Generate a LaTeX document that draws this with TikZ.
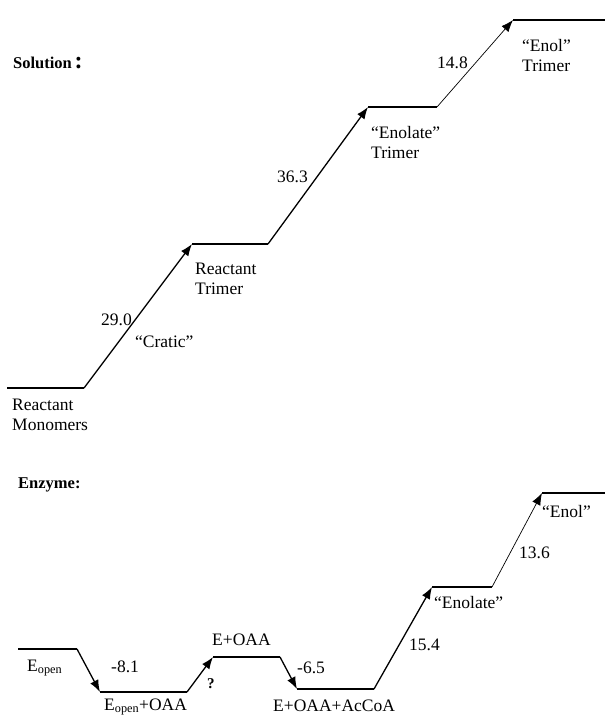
\documentclass[tikz,border=0pt]{standalone}
\usepackage{fontspec}
\setmainfont{Liberation Serif}
\usetikzlibrary{arrows.meta}
\tikzset{
  level/.style={line width=1.5pt},
  jump/.style={line width=1.3pt, -{Latex[length=12pt,width=9pt]}},
  thinjump/.style={line width=0.7pt, -{Latex[length=12pt,width=9pt]}},
  lab/.style={font=\fontsize{17.5}{20}\selectfont, inner sep=0pt, anchor=west, align=left},
  head/.style={font=\fontsize{16.5}{18}\selectfont\bfseries, inner sep=0pt, anchor=west},
}
\begin{document}
\begin{tikzpicture}[x=1pt, y=-1pt]
  \useasboundingbox (0,0) rectangle (605,717);
  % solution: levels
  \node[head] (sol) at (13,63) {Solution\,{\fontsize{24}{24}\selectfont:}};
  \coordinate (mono-s) at (7,388);   \coordinate (mono-e) at (84,388);
  \coordinate (rtri-s) at (192,244); \coordinate (rtri-e) at (268,244);
  \coordinate (etri-s) at (368,107); \coordinate (etri-e) at (437,107);
  \coordinate (ntri-s) at (513,20);  \coordinate (ntri-e) at (605,20);
  \foreach \lv in {mono, rtri, etri, ntri} {\draw[level] (\lv-s) -- (\lv-e);}
  \draw[jump] (mono-e) -- (rtri-s);
  \draw[jump] (rtri-e) -- (etri-s);
  \draw[thinjump] (etri-e) -- (ntri-s);
  \node[lab] (mono) at (12,415) {Reactant\\Monomers};
  \node[lab] (cr) at (101,320) {29.0};
  \node[lab] (cratic) at (135,342) {``Cratic''};
  \node[lab] (rtri) at (195,279) {Reactant\\Trimer};
  \node[lab] (en) at (277,177) {36.3};
  \node[lab] (etri) at (371,143) {``Enolate''\\Trimer};
  \node[lab] (el) at (437,63) {14.8};
  \node[lab] (ntri) at (522,56) {``Enol''\\Trimer};

  % enzyme: levels
  \node[head] (enz) at (18,485) {Enzyme:};
  \coordinate (eop-s) at (18,649);  \coordinate (eop-e) at (77,649);
  \coordinate (eoa-s) at (100,692); \coordinate (eoa-e) at (187,692);
  \coordinate (ea-s) at (213,657);  \coordinate (ea-e) at (280,657);
  \coordinate (eac-s) at (297,689); \coordinate (eac-e) at (374,689);
  \coordinate (eet-s) at (432,587); \coordinate (eet-e) at (492,587);
  \coordinate (eel-s) at (542,493); \coordinate (eel-e) at (605,493);
  \foreach \lv in {eop, eoa, ea, eac, eet, eel} {\draw[level] (\lv-s) -- (\lv-e);}
  \draw[jump] (eop-e) -- (eoa-s);
  \draw[jump] (eoa-e) -- (ea-s);
  \draw[jump] (ea-e) -- (eac-s);
  \draw[jump] (eac-e) -- (eet-s);
  \draw[thinjump] (eet-e) -- (eel-s);
  \node[lab] (eop) at (27,668) {E\textsubscript{open}};
  \node[lab] (bind) at (111,667) {-8.1};
  \node[lab] (eoa) at (104,707) {E\textsubscript{open}+OAA};
  \node[lab, font=\fontsize{15}{18}\selectfont\bfseries] (q) at (207,684) {?};
  \node[lab] (ea) at (212,640) {E+OAA};
  \node[lab] (acc) at (297,668) {-6.5};
  \node[lab] (eac) at (273,706) {E+OAA+AcCoA};
  \node[lab] (eet-g) at (409,645) {15.4};
  \node[lab] (eet) at (434,603) {``Enolate''};
  \node[lab] (eel-g) at (519,553) {13.6};
  \node[lab] (eel) at (542,512) {``Enol''};
\end{tikzpicture}
\end{document}
